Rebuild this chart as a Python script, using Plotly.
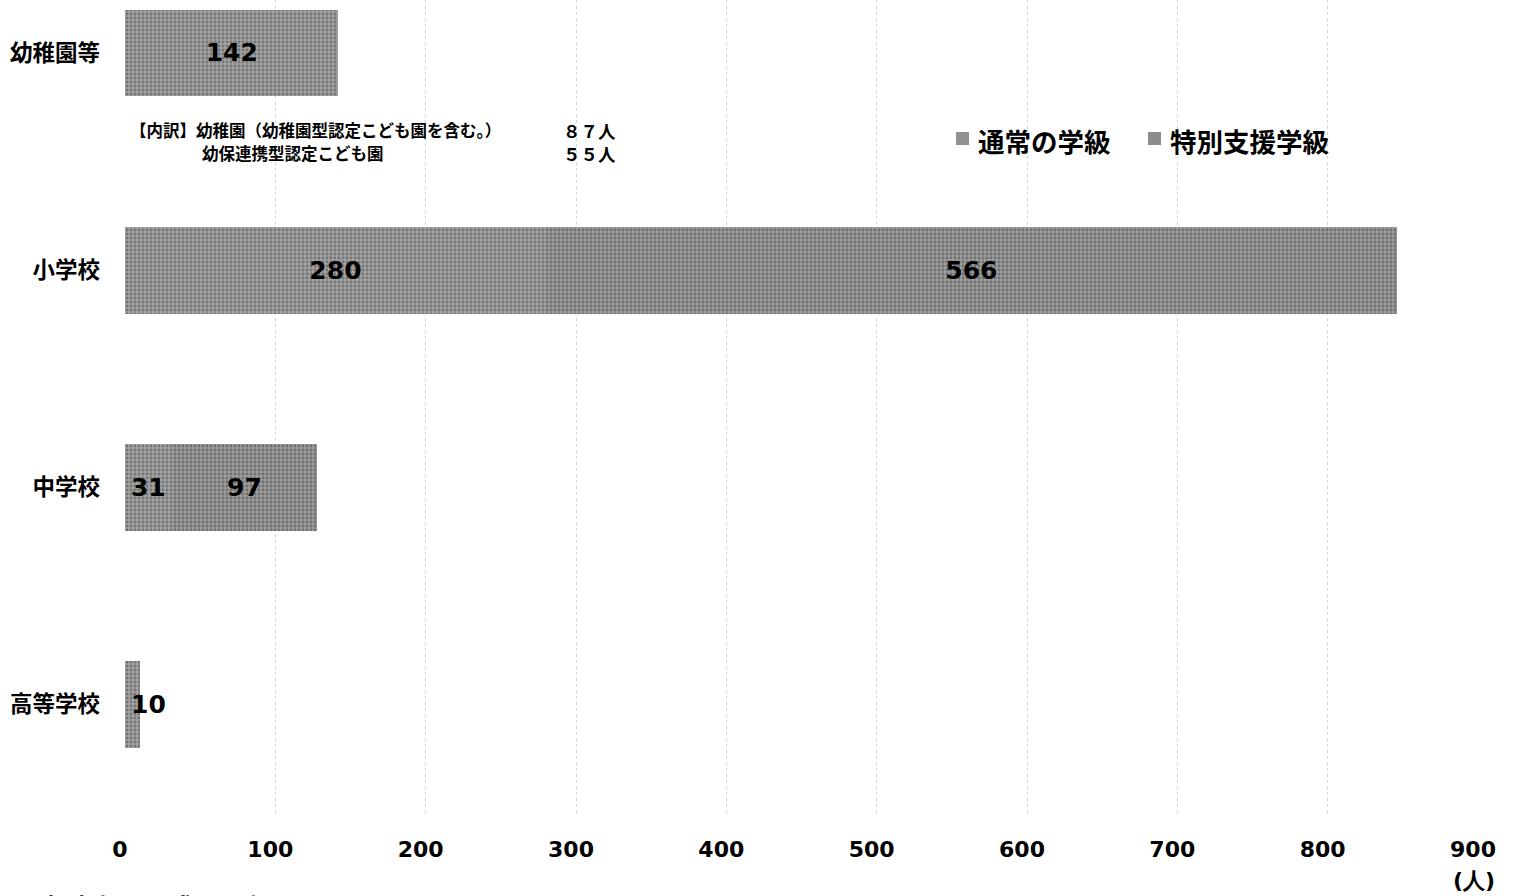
import plotly.graph_objects as go

# School categories, top to bottom
categories = ["幼稚園等", "小学校", "中学校", "高等学校"]
# Children by class type (人)
regular_class = [142, 280, 31, 10]
special_class = [None, 566, 97, None]
series_names = ["通常の学級", "特別支援学級"]
x_ticks = [0, 100, 200, 300, 400, 500, 600, 700, 800, 900]

# Breakdown of the kindergarten figure
breakdown_labels = ["【内訳】幼稚園（幼稚園型認定こども園を含む。）", "幼保連携型認定こども園"]
breakdown_counts = ["８７人", "５５人"]

W, H = 1535, 896
L, R, T, B = 125, W - 1478, 0, 83
PW, PH = W - L - R, H - T - B

def px_x(p):
    return (p - L) / PW

def px_y(p):
    return (H - B - p) / PH

ypos = list(range(len(categories)))
bar_font = dict(family="DejaVu Sans", size=25, color="black", weight="bold")
fills = [dict(color="#929292", fg="#474747", bg="#a2a2a2"),
         dict(color="#8c8c8c", fg="#424242", bg="#9c9c9c")]

# labels for the regular-class segments; the tiny high-school bar is labelled beside it
reg_text = [str(v) for v in regular_class[:3]] + [""]

fig = go.Figure()
fig.add_trace(go.Bar(
    name=series_names[0], y=ypos, x=regular_class, orientation="h",
    marker=dict(color=fills[0]["color"], line=dict(width=0),
                pattern=dict(shape=".", fgcolor=fills[0]["fg"], bgcolor=fills[0]["bg"],
                             size=4, solidity=0.4)),
    text=reg_text, texttemplate="%{text}", textposition="inside",
    insidetextanchor="middle", textfont=bar_font, width=0.4, showlegend=False,
))
fig.add_trace(go.Bar(
    name=series_names[1], y=ypos, x=special_class, orientation="h",
    marker=dict(color=fills[1]["color"], line=dict(width=0),
                pattern=dict(shape=".", fgcolor=fills[1]["fg"], bgcolor=fills[1]["bg"],
                             size=4, solidity=0.4)),
    texttemplate="%{x}", textposition="inside",
    insidetextanchor="middle", textfont=bar_font, width=0.4, showlegend=False,
))

annotations = []
shapes = []

# value label of the narrow high-school bar
annotations.append(dict(text=str(regular_class[3]), x=regular_class[3], y=ypos[3],
                        xref="x", yref="y", xanchor="center", yanchor="middle",
                        xshift=8, showarrow=False, font=bar_font))

note_font = dict(family="Noto Sans CJK JP", size=16.5, color="black", weight="bold")
note_rows = [(128, 130), (200, 153)]
for (lx, ly), label, count in zip(note_rows, breakdown_labels, breakdown_counts):
    annotations.append(dict(text=label, x=px_x(lx), y=px_y(ly), xref="paper", yref="paper",
                            xanchor="left", yanchor="middle", showarrow=False, font=note_font))
    annotations.append(dict(text=count, x=px_x(561), y=px_y(ly), xref="paper", yref="paper",
                            xanchor="left", yanchor="middle", showarrow=False,
                            font=dict(note_font, size=17.5)))

# legend: swatch + label for each series
legend_font = dict(family="Noto Sans CJK JP", size=26.5, color="black", weight="bold")
for sx, tx, name, f in zip([956, 1148], [976, 1168], series_names, fills):
    shapes.append(dict(type="rect", xref="paper", yref="paper",
                       x0=px_x(sx), x1=px_x(sx + 13), y0=px_y(145), y1=px_y(132),
                       fillcolor=f["color"], line=dict(width=0)))
    annotations.append(dict(text=name, x=px_x(tx), y=px_y(140), xref="paper", yref="paper",
                            xanchor="left", yanchor="middle", showarrow=False, font=legend_font))

annotations.append(dict(text="(人)", x=px_x(1474), y=px_y(880),
                        xref="paper", yref="paper", xanchor="center", yanchor="middle",
                        showarrow=False,
                        font=dict(family="DejaVu Sans", size=22, color="black", weight="bold")))
annotations.append(dict(text="調査時点：平成２７年５月１日", x=px_x(10), y=px_y(886),
                        xref="paper", yref="paper", xanchor="left", yanchor="top",
                        showarrow=False,
                        font=dict(family="Noto Sans CJK JP", size=26, color="black", weight="bold")))

fig.update_layout(
    width=W, height=H,
    margin=dict(l=L, r=R, t=T, b=B),
    paper_bgcolor="white", plot_bgcolor="white",
    barmode="stack", bargap=0.6,
    showlegend=False,
    xaxis=dict(range=[0, 900], tickvals=x_ticks, showgrid=True, gridcolor="#d4d4d4",
               griddash="dot", gridwidth=1, zeroline=False, showline=False,
               ticks="", ticklabelstandoff=21, ticklabelshift=-5,
               tickfont=dict(family="DejaVu Sans", size=22, color="black", weight="bold")),
    yaxis=dict(range=[3.5, -0.244], tickvals=ypos, ticktext=categories,
               showgrid=False, zeroline=False, showline=False, ticks="",
               ticklabelstandoff=24,
               tickfont=dict(family="Noto Sans CJK JP", size=22.5, color="black", weight="bold")),
    annotations=annotations,
    shapes=shapes,
)

fig.write_html("out.html")
